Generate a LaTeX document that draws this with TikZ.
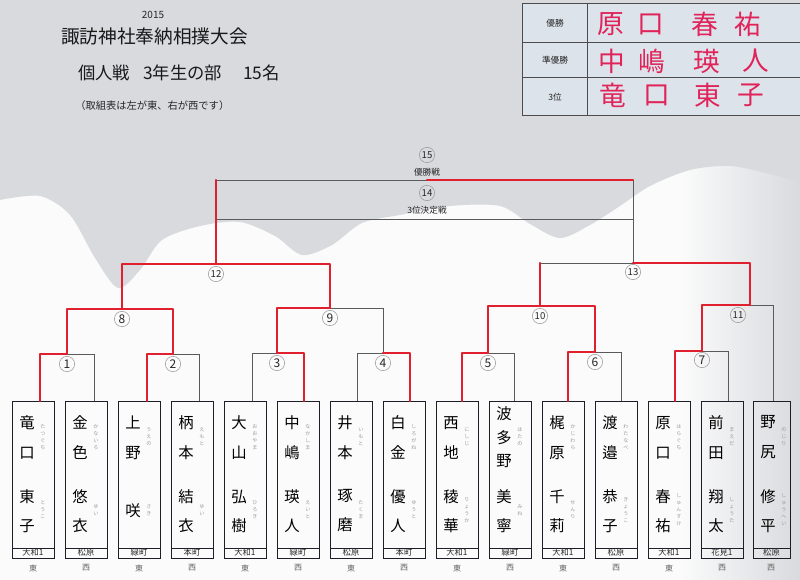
\documentclass[tikz,border=0pt]{standalone}
\usepackage{fontspec}
\setmainfont{Noto Sans CJK JP}
\definecolor{paper}{HTML}{FBFBFB}
\definecolor{shadow}{HTML}{D8DADE}
\definecolor{tablebg}{HTML}{DDE3EB}
\definecolor{marker}{HTML}{E0202E}
\definecolor{pen}{HTML}{E0245A}
\definecolor{ink}{HTML}{1E1E28}
\definecolor{thinline}{HTML}{5A5A5A}
\definecolor{furicol}{HTML}{9A9A9A}
\tikzset{
  bline/.style={draw=thinline, line width=0.55pt},
  win/.style={draw=marker, line width=1.8pt, line join=round, line cap=round},
  circ/.style={circle, draw=gray!80, line width=0.4pt, inner sep=0pt, minimum size=11.5pt, font=\fontsize{9}{9}\selectfont, text=black!85},
  circw/.style={circ, font=\fontsize{7.2}{7.2}\selectfont},
  pbox/.style={draw=ink, line width=1.1pt, inner sep=0pt, minimum height=117.75pt},
  nm2/.style={align=center, inner sep=0pt, font=\fontsize{11.5}{22.5}\selectfont},
  nm3/.style={align=center, inner sep=0pt, font=\fontsize{11.5}{17.6}\selectfont},
  gv2/.style={align=center, inner sep=0pt, font=\fontsize{11.5}{21.75}\selectfont},
  gv1/.style={align=center, inner sep=0pt, font=\fontsize{11.5}{11.5}\selectfont},
  furi/.style={align=center, inner sep=0pt, text=furicol, font=\fontsize{3.8}{5.25}\selectfont},
  reg/.style={inner sep=0pt, font=\fontsize{6.2}{6.2}\selectfont, text=black!85},
  side/.style={inner sep=0pt, font=\fontsize{6}{6}\selectfont, text=black!60},
  lbl/.style={inner sep=0pt, font=\fontsize{6.5}{6.5}\selectfont, text=black!85},
  hand/.style={inner sep=0pt, text=pen, font=\fontsize{20}{20}\selectfont},
  tline/.style={draw=black!70, line width=0.7pt},
}
\newcommand\pw{42}
\newcommand\player[9]{%
  \node[pbox, minimum width=\pw*0.75pt, anchor=north west] (p#1) at (#2,401) {};
  \draw[draw=ink, line width=0.6pt] ([yshift=8.25pt]p#1.south west) -- ([yshift=8.25pt]p#1.south east);
  \node[#3] (s#1) at (#2+15,437.5) {#4};
  \node[#5] (g#1) at (#2+15,511) {#6};
  \node[furi] (fs#1) at (#2+31,437) {#7};
  \node[furi] (fg#1) at (#2+31,510) {#8};
  \node[reg] (r#1) at (#2+\pw/2,552.5) {#9};
}
\begin{document}
\begin{tikzpicture}[x=0.75pt,y=-0.75pt]
\useasboundingbox (0,0) rectangle (800,580);
% ---------- paper / photo background ----------
\fill[paper] (0,0) rectangle (800,580);
\shade[left color=paper, right color=shadow] (680,140) rectangle (800,580);
\fill[shadow] (0,0) -- plot[smooth] coordinates {(0,200) (40,196) (70,215) (95,258) (118,288) (140,270) (162,240) (200,226) (240,222) (275,236) (302,255) (332,245) (362,223) (400,215) (450,206) (500,206) (530,224) (560,238) (590,225) (620,206) (650,186) (690,170) (730,166) (770,174) (800,182)} -- (800,0) -- cycle;

% ---------- title ----------
\node[inner sep=0pt, font=\fontsize{7.5}{7.5}\selectfont, text=black!85] (year) at (153,15) {2015};
\node[inner sep=0pt, font=\fontsize{14}{14}\selectfont, text=black!90] (title) at (154.5,36) {諏訪神社奉納相撲大会};
\node[inner sep=0pt, anchor=west, font=\fontsize{13}{13}\selectfont, text=black!90] (sub1) at (78,73) {個人戦};
\node[inner sep=0pt, anchor=west, font=\fontsize{13}{13}\selectfont, text=black!90] (sub2) at (143,73) {3年生の部};
\node[inner sep=0pt, anchor=west, font=\fontsize{13}{13}\selectfont, text=black!90] (sub3) at (243,73) {15名};
\node[inner sep=0pt, anchor=west, font=\fontsize{7.7}{7.7}\selectfont, text=black!85] (note) at (75,106) {（取組表は左が東、右が西です）};

% ---------- result table ----------
\fill[tablebg] (522,3) rectangle (800,115);
\draw[tline] (522,3) rectangle (803,115);
\draw[tline] (587,3) -- (587,115);
\draw[tline] (522,42) -- (803,42);
\draw[tline] (522,77) -- (803,77);
\node[lbl] (t1) at (555,23) {優勝};
\node[lbl] (t2) at (555,60) {準優勝};
\node[lbl] (t3) at (555,97) {3位};
\node[hand] (h11) at (611,24) {原};
\node[hand] (h12) at (651,24) {口};
\node[hand] (h13) at (705,24) {春};
\node[hand] (h14) at (748,24) {祐};
\node[hand] (h21) at (612,61) {中};
\node[hand] (h22) at (652,61) {嶋};
\node[hand] (h23) at (707,61) {瑛};
\node[hand] (h24) at (756,61) {人};
\node[hand] (h31) at (613,95) {竜};
\node[hand] (h32) at (657,95) {口};
\node[hand] (h33) at (708,95) {東};
\node[hand] (h34) at (751,95) {子};

% ---------- players ----------
\player{1}{12}{nm2}{竜\\口}{gv2}{東\\子}{た\\つ\\ぐ\\ち}{と\\う\\こ}{大和1}
\player{2}{65}{nm2}{金\\色}{gv2}{悠\\衣}{か\\な\\い\\ろ}{ゆ\\い}{松原}
\player{3}{118}{nm2}{上\\野}{gv1}{咲}{う\\え\\の}{さ\\き}{緑町}
\player{4}{171}{nm2}{柄\\本}{gv2}{結\\衣}{え\\も\\と}{ゆ\\い}{本町}
\player{5}{224}{nm2}{大\\山}{gv2}{弘\\樹}{お\\お\\や\\ま}{ひ\\ろ\\き}{大和1}
\player{6}{277}{nm2}{中\\嶋}{gv2}{瑛\\人}{な\\か\\し\\ま}{え\\い\\と}{緑町}
\player{7}{330}{nm2}{井\\本}{gv2}{琢\\磨}{い\\も\\と}{た\\く\\ま}{松原}
\player{8}{383}{nm2}{白\\金}{gv2}{優\\人}{し\\ろ\\が\\ね}{ゆ\\う\\と}{本町}
\player{9}{436}{nm2}{西\\地}{gv2}{稜\\華}{に\\し\\じ}{り\\ょ\\う\\か}{大和1}
\player{10}{489}{nm3}{波\\多\\野}{gv2}{美\\寧}{は\\た\\の}{み\\ね}{緑町}
\player{11}{542}{nm2}{梶\\原}{gv2}{千\\莉}{か\\じ\\わ\\ら}{せ\\ん\\り}{大和1}
\player{12}{595}{nm2}{渡\\邉}{gv2}{恭\\子}{わ\\た\\な\\べ}{き\\ょ\\う\\こ}{松原}
\player{13}{648}{nm2}{原\\口}{gv2}{春\\祐}{は\\ら\\ぐ\\ち}{し\\ゅ\\ん\\す\\け}{大和1}
\player{14}{701}{nm2}{前\\田}{gv2}{翔\\太}{ま\\え\\だ}{し\\ょ\\う\\た}{花見1}
\renewcommand\pw{37}
\player{15}{753}{nm2}{野\\尻}{gv2}{修\\平}{の\\じ\\り}{し\\ゅ\\う\\へ\\い}{松原}

\foreach \i/\x/\t in {1/33/東,2/86/西,3/139/東,4/192/西,5/245/東,6/298/西,7/351/東,8/404/西,9/457/東,10/510/西,11/563/東,12/616/西,13/669/東,14/722/西,15/771/西}
  \node[side] (e\i) at (\x,568) {\t};

% ---------- bracket points ----------
\foreach \i/\x in {1/40,2/94,3/147,4/199,5/252,6/304,7/357,8/410,9/462,10/514,11/568,12/621,13/675,14/728,15/773}
  \coordinate (b\i) at (\x,401);
\coordinate (m1) at (67,354);
\coordinate (m2) at (173,354);
\coordinate (m3) at (277,353);
\coordinate (m4) at (383,353);
\coordinate (m5) at (488,353);
\coordinate (m6) at (595,352);
\coordinate (m7) at (702,351);
\coordinate (m8) at (122,309);
\coordinate (m9) at (330,308);
\coordinate (m10) at (540,306);
\coordinate (m11) at (750,305);
\coordinate (m12) at (216,264);
\coordinate (m13) at (633,263);
\coordinate (f15) at (427,180);
\coordinate (f14) at (427,219);

% black lines
\draw[bline] (b2) |- (m1);
\draw[bline] (b4) |- (m2);
\draw[bline] (b5) |- (m3);
\draw[bline] (b7) |- (m4);
\draw[bline] (m4) |- (m9);
\draw[bline] (b10) |- (m5);
\draw[bline] (b12) |- (m6);
\draw[bline] (m10 |- m13) -- (m13);
\draw[bline] (b14) |- (m7);
\draw[bline] (b15) |- (m11);
\draw[bline] (m13) -- (m13 |- f15);
\draw[bline] (m12 |- f15) -- (f15);
\draw[bline] (m12 |- f14) -- (m13 |- f14);

% winners (red)
\draw[win] (b1) |- (m1);
\draw[win] (m1) |- (m8);
\draw[win] (b3) |- (m2);
\draw[win] (m2) |- (m8);
\draw[win] (m8) |- (m12);
\draw[win] (m9) |- (m12);
\draw[win] (m12) -- (m12 |- f15);
\draw[win] (b6) |- (m3);
\draw[win] (m3) |- (m9);
\draw[win] (b8) |- (m4);
\draw[win] (b9) |- (m5);
\draw[win] (m5) |- (m10);
\draw[win] (b11) |- (m6);
\draw[win] (m6) |- (m10);
\draw[win] (m10) -- (m10 |- m13);
\draw[win] (b13) |- (m7);
\draw[win] (m7) |- (m11);
\draw[win] (m11) |- (m13);
\draw[win] (m13 |- f15) -- (f15);

% match numbers
\node[circ] (c1) at (67,364) {1};
\node[circ] (c2) at (173,364) {2};
\node[circ] (c3) at (277,363) {3};
\node[circ] (c4) at (383,363) {4};
\node[circ] (c5) at (488,363) {5};
\node[circ] (c6) at (595,362) {6};
\node[circ] (c7) at (702,360) {7};
\node[circ] (c8) at (122,319) {8};
\node[circ] (c9) at (330,318) {9};
\node[circw] (c10) at (540,316) {10};
\node[circw] (c11) at (738,315) {11};
\node[circw] (c12) at (216,274) {12};
\node[circw] (c13) at (633,272) {13};
\node[circw] (c15) at (427,155) {15};
\node[lbl] (w15) at (427,172) {優勝戦};
\node[circw] (c14) at (427,193) {14};
\node[lbl] (w14) at (427,210) {3位決定戦};
\end{tikzpicture}
\end{document}
